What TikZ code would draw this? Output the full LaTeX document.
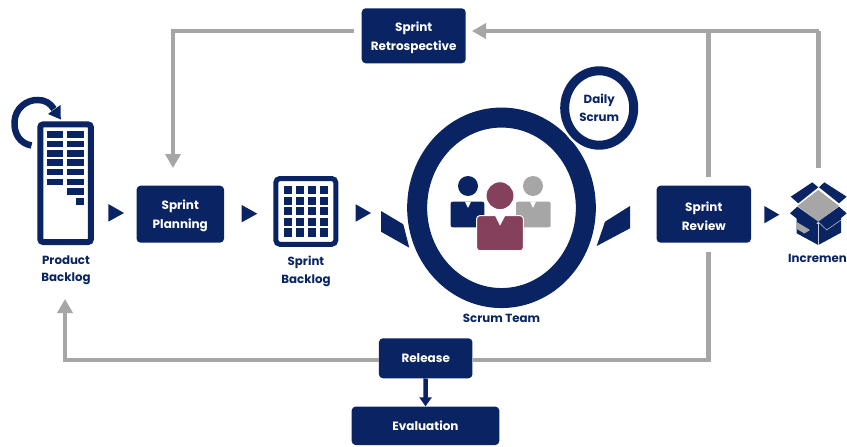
\documentclass[tikz,border=0pt]{standalone}
\usepackage{fontspec}
\setmainfont{Poppins}
\usetikzlibrary{arrows.meta,shapes.geometric}
\definecolor{navy}{HTML}{0A2463}
\definecolor{lgray}{HTML}{A6A6A6}
\definecolor{plum}{HTML}{85405C}
\newcommand{\pushdown}{\rule{0pt}{13pt}}
\tikzset{x=1pt,y=-1pt,
 box/.style={fill=navy,rounded corners=4pt,text=white,align=center,font=\fontsize{12}{18.7}\selectfont\bfseries,inner sep=0pt,minimum width=#1},
 lbl/.style={text=navy,align=center,font=\fontsize{11.8}{17.6}\selectfont\bfseries,inner sep=0pt},
 flow/.style={draw=lgray,line width=4.5pt,-{Triangle[length=14pt,width=15pt]}},
 flowplain/.style={draw=lgray,line width=4.5pt},
 tri/.style={fill=navy}}
\begin{document}
\begin{tikzpicture}
\useasboundingbox (0,0) rectangle (847,447);
% boxes
\node[box=104pt,minimum height=55pt] (retro) at (413.7,35.8) {\pushdown Sprint\\Retrospective};
\node[box=87.5pt,minimum height=57pt] (plan) at (180.3,214.2) {\pushdown Sprint\\Planning};
\node[box=94.5pt,minimum height=57pt] (review) at (703.8,214.2) {\pushdown Sprint\\Review};
\node[box=93.5pt,minimum height=40pt] (release) at (425.7,358.3) {Release};
\node[box=147.6pt,minimum height=38.5pt] (eval) at (425.5,425.8) {Evaluation};
% coordinates
\coordinate (c1) at (173,31);
\coordinate (retroL) at (354,31);
\coordinate (retroR) at (472,31);
\coordinate (planT) at (173,168);
\coordinate (c2) at (708.7,31);
\coordinate (c3) at (818.5,31);
\coordinate (c4) at (708.7,360);
\coordinate (c5) at (65,360);
\coordinate (pbb) at (65,299);
\coordinate (rv1) at (708.7,176.5);
\coordinate (rv2) at (708.7,251.5);
\coordinate (inc1) at (818.5,168);
% connectors
\draw[flow] (retroL) -- (c1) -- (planT);
\draw[flowplain] (c3) -- (inc1);
\draw[flowplain] (c2) -- (rv1);
\draw[flow] (c3) -- (retroR);
\draw[flowplain] (rv2) -- (c4) -- (release.east |- c4);
\draw[flow] (release.west |- c5) -- (c5) -- (pbb);
\draw[draw=navy,line width=4.5pt,-{Triangle[length=9pt,width=12pt]}] (release.south) -- (eval.north);
% Product backlog icon
\node[draw=navy,fill=white,line width=6pt,rounded corners=3pt,minimum width=50.7pt,minimum height=117.7pt,inner sep=0pt] (pb) at (65.6,183.2) {};
\foreach \y in {131,140.7,150,159.3,168.7,178.7}
 {\fill[navy] (46.7,\y) rectangle (63.3,\y+6.7);}
\foreach \y in {131,140.7,150,159.3,168.7,178.7,188.3}
 {\fill[navy] (67.3,\y) rectangle (84,\y+6.7);}
\fill[navy] (75.7,198) rectangle (84,204.7);
\draw[navy,line width=6.5pt] (31.5,145.5) .. controls (20,143.5) and (14,134) .. (14.5,122) .. controls (15,108) and (27,99.5) .. (38,100) .. controls (45,100) and (50,103) .. (54,109);
\fill[navy] (60.8,119.5) -- (60.5,105) -- (48,114) -- cycle;
\node[lbl] (pbl) at (66,270.3) {Product\\Backlog};
% Sprint backlog
\node[draw=navy,fill=white,line width=5pt,rounded corners=4pt,minimum width=60pt,minimum height=65.7pt,inner sep=0pt] (sb) at (305.8,211.4) {};
\foreach \i in {0,...,3}{\foreach \j in {0,...,4}{
 \fill[navy] (284.3+\i*11.9,186+\j*10.6) rectangle ++(7.6,8.2);}}
\node[lbl] (sbl) at (306,271.1) {Sprint\\Backlog};
% triangles
\fill[tri] (108.3,204) -- (124,213) -- (108.3,221.7) -- cycle;
\fill[tri] (241.7,205) -- (257.3,213.7) -- (241.7,222.3) -- cycle;
\fill[tri] (355.7,204.3) -- (371,213) -- (355.7,221.7) -- cycle;
\fill[tri] (764.3,206) -- (779.3,214.7) -- (764.3,223.3) -- cycle;
\fill[tri] (381,211) -- (403.3,224.3) -- (409.3,247.7) -- (381,231.7) -- cycle;
\fill[tri] (630,206) -- (605,221.7) -- (596.7,246) -- (630,228.3) -- cycle;
% team circle
\node[ellipse,draw=navy,line width=20pt,minimum width=168.7pt,minimum height=180.5pt,inner sep=0pt] (team) at (501.5,207.8) {};
\node[ellipse,fill=white,minimum width=82pt,minimum height=86pt,inner sep=0pt] (halo) at (599.2,109) {};
\node[ellipse,draw=navy,line width=9pt,fill=white,minimum width=69pt,minimum height=74.4pt,inner sep=0pt,align=center,text=navy,font=\fontsize{11.8}{17.4}\selectfont\bfseries] (daily) at (599.2,108) {Daily\\Scrum};
\node[lbl] (tl) at (501.5,318.5) {Scrum Team};
% people
\fill[navy] (468,186) circle (10pt);
\fill[navy,rounded corners=2pt] (450.7,201.7) rectangle (484.3,227.3);
\fill[lgray] (533,186) circle (10pt);
\fill[lgray,rounded corners=2pt] (516,201.7) rectangle (550.7,227.3);
\fill[white] (465,201.7) -- (468,208) -- (471,201.7) -- cycle;
\fill[white] (530,201.7) -- (533,208) -- (536,201.7) -- cycle;
\fill[plum,draw=white,line width=1pt] (500,195.7) circle (14pt);
\fill[plum,draw=white,line width=1pt,rounded corners=3pt] (476.7,215.7) rectangle (523.3,250.7);
\fill[white] (495,215.7) -- (500,225.7) -- (505.3,215.7) -- cycle;
% increment
\fill[navy] (796.7,218) -- (818.3,224) -- (841,218) -- (841,232.7) -- (818.3,245) -- (796.7,233.3) -- cycle;
\fill[lgray] (796.7,222) -- (810,230) -- (804.5,233.5) -- (796.7,229) -- cycle;
\fill[lgray] (797.3,206) -- (818.3,190) -- (839,206) -- (818.3,221.7) -- cycle;
\fill[navy] (790.7,196.7) -- (812.3,182.3) -- (818.3,187.3) -- (798.3,203.3) -- cycle;
\fill[navy] (846.7,196.7) -- (824.3,182.3) -- (819,187.3) -- (839,203.3) -- cycle;
\fill[navy] (790,213.3) -- (797.3,206.7) -- (818.3,221.7) -- (810,229) -- cycle;
\fill[navy] (846.7,213.3) -- (839,206.7) -- (818.3,221.7) -- (826.7,230) -- cycle;
\draw[lgray!60,line width=.5pt] (818.3,222) -- (818.3,245);
\draw[lgray!60,line width=.5pt] (818.3,222) -- (826.7,230) -- (841,220);
\node[lbl,anchor=west] (il) at (788,258.5) {Incremen};
\end{tikzpicture}
\end{document}
